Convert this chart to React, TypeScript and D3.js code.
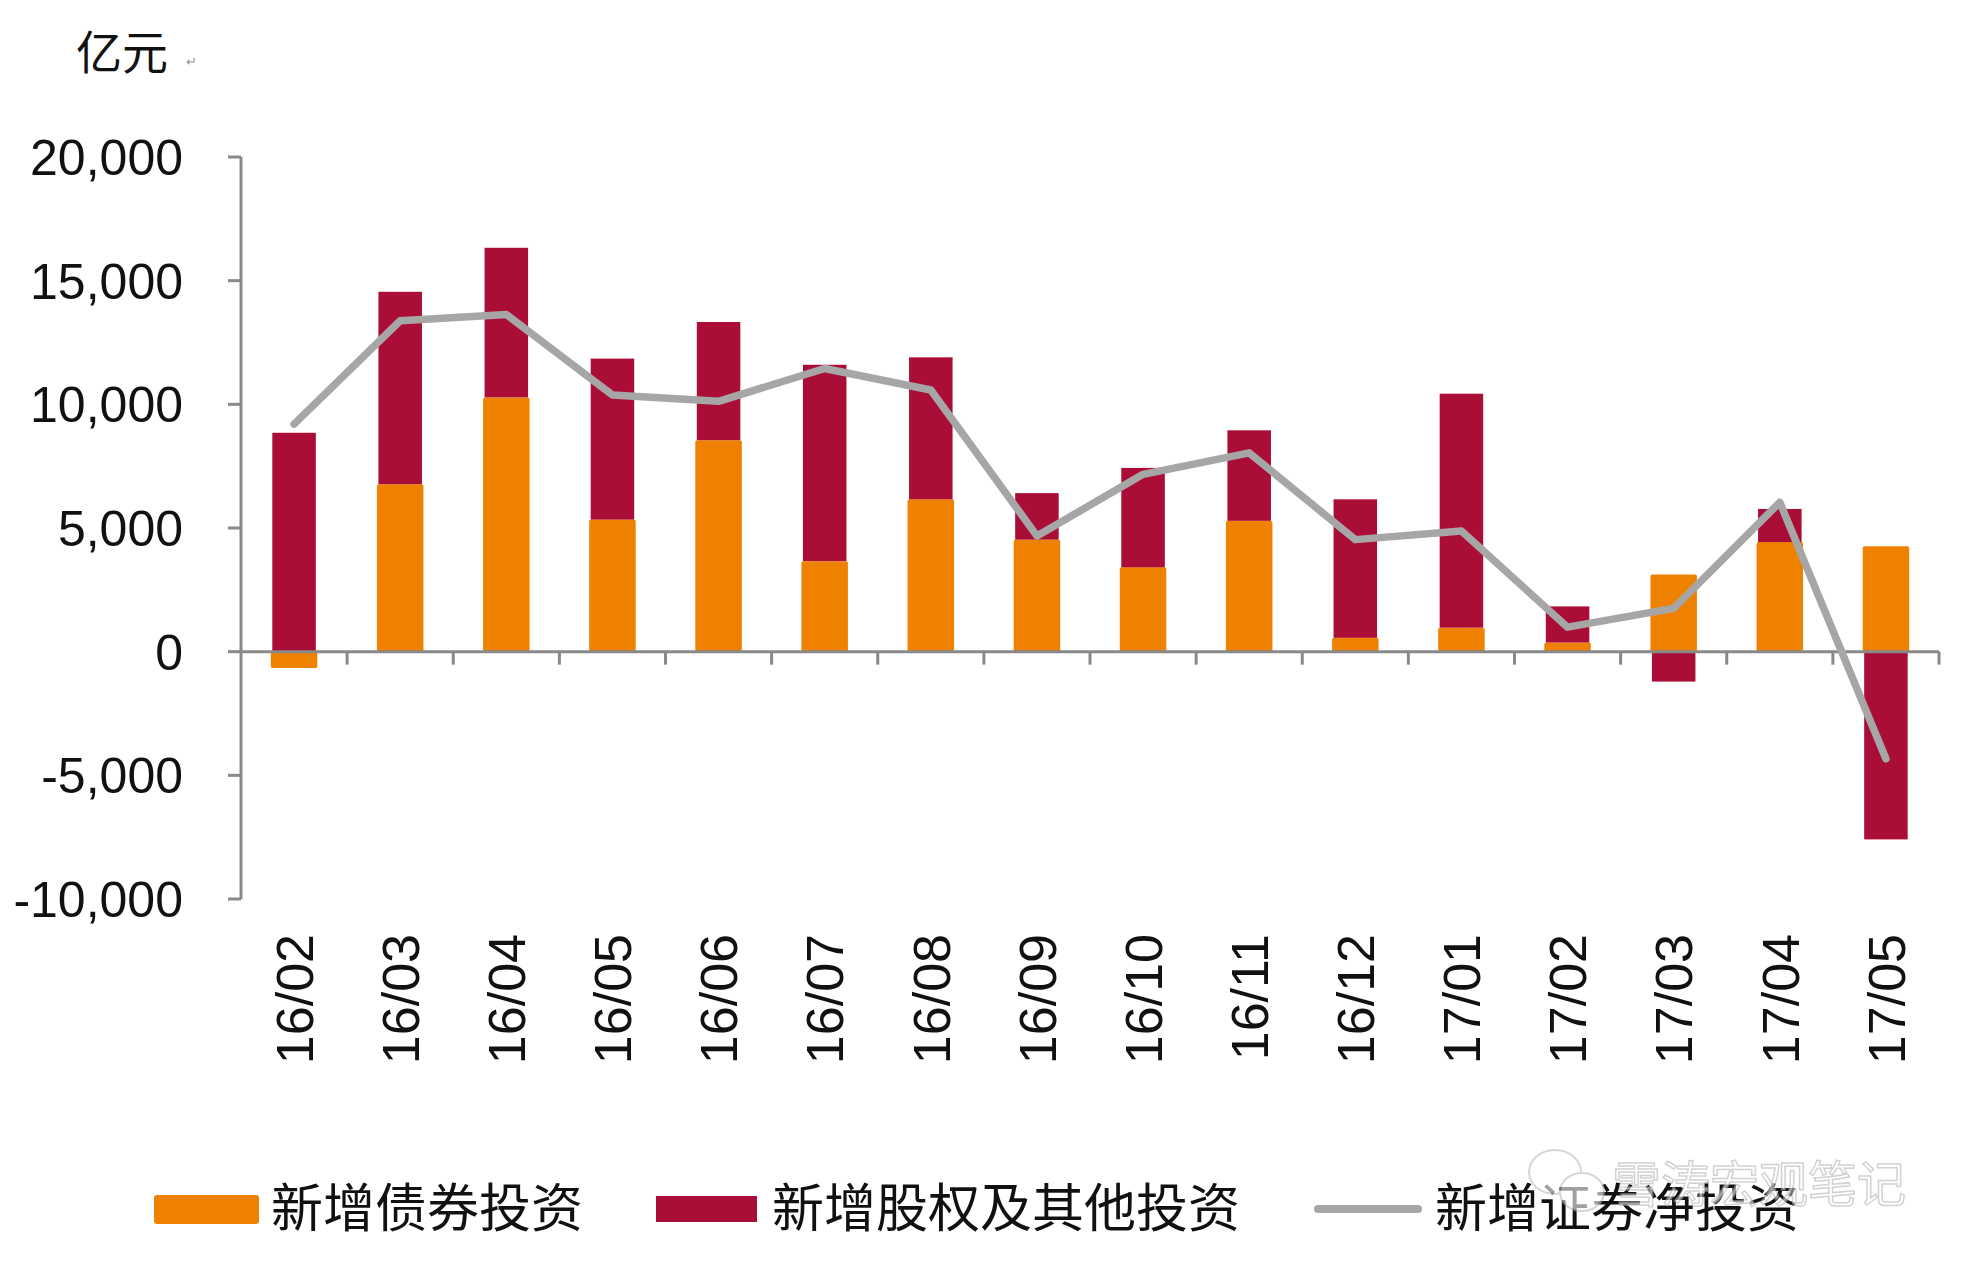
import * as d3 from "d3";
import { useEffect, useRef } from "react";

const categories = [
  "16/02", "16/03", "16/04", "16/05", "16/06", "16/07", "16/08", "16/09",
  "16/10", "16/11", "16/12", "17/01", "17/02", "17/03", "17/04", "17/05",
];
// 新增债券投资
const bonds = [-660, 6770, 10280, 5340, 8550, 3660, 6160, 4530, 3410, 5290, 560, 970, 370, 3120, 4430, 4260];
// 新增股权及其他投资
const equity = [8850, 7780, 6050, 6510, 4780, 7940, 5740, 1880, 4020, 3660, 5600, 9460, 1460, -1210, 1340, -7590];
// 新增证券净投资
const netSecurities = [9200, 13380, 13630, 10380, 10120, 11450, 10580, 4680, 7170, 8040, 4530, 4880, 990, 1750, 6040, -4330];
const yTicks = [20000, 15000, 10000, 5000, 0, -5000, -10000];

const W = 1967;
const H = 1269;
const ORANGE = "#EE8200";
const RED = "#AA0D36";
const GRAY_LINE = "#A6A6A6";
const AXIS = "#898989";
const CJK = "'Noto Sans CJK SC', 'Noto Sans', sans-serif";
const NUM = "'Liberation Sans', Arial, sans-serif";

const App = () => {
  const ref = useRef<SVGSVGElement | null>(null);

  useEffect(() => {
    document.body.style.margin = "0";
    if (!ref.current) return;

    const svg = d3.select(ref.current);
    svg.selectAll("*").remove();

    const x0 = 241;
    const x1 = 1939;
    const x = d3.scaleBand<string>().domain(categories).range([x0, x1]).padding(0);
    const y = d3.scaleLinear().domain([-10000, 20000]).range([899, 157]);
    const barW = x.bandwidth() * 0.41;
    const cx = (c: string) => (x(c) ?? 0) + x.bandwidth() / 2;

    const rows = categories.map((c, i) => ({ cat: c, bonds: bonds[i], equity: equity[i] }));
    const stack = d3
      .stack<{ cat: string; bonds: number; equity: number }>()
      .keys(["bonds", "equity"])
      .offset(d3.stackOffsetDiverging);
    const series = stack(rows);
    const colors: Record<string, string> = { bonds: ORANGE, equity: RED };

    // bars
    const bars = svg.append("g");
    series.forEach((s) => {
      const isBond = s.key === "bonds";
      bars
        .append("g")
        .selectAll("rect")
        .data(s)
        .join("rect")
        .attr("x", (d) => cx(d.data.cat) - barW / 2 - (isBond ? 1.5 : 0))
        .attr("width", barW + (isBond ? 3 : 0))
        .attr("y", (d) => y(Math.max(d[0], d[1])))
        .attr("height", (d) => Math.abs(y(d[0]) - y(d[1])))
        .attr("rx", isBond ? 2 : 0)
        .attr("fill", colors[s.key]);
    });

    // y axis
    const axisG = svg.append("g").attr("stroke", AXIS).attr("stroke-width", 3);
    axisG
      .append("line")
      .attr("x1", x0)
      .attr("x2", x0)
      .attr("y1", y(20000))
      .attr("y2", y(-10000));
    axisG
      .selectAll("line.yt")
      .data(yTicks)
      .join("line")
      .attr("class", "yt")
      .attr("x1", x0 - 13)
      .attr("x2", x0)
      .attr("y1", (d) => y(d))
      .attr("y2", (d) => y(d));

    // x axis at zero
    axisG
      .append("line")
      .attr("x1", x0)
      .attr("x2", x1)
      .attr("y1", y(0))
      .attr("y2", y(0));
    const boundaries = categories.slice(1).map((c) => x(c) ?? 0).concat([x1]);
    axisG
      .selectAll("line.xt")
      .data(boundaries)
      .join("line")
      .attr("class", "xt")
      .attr("x1", (d) => d)
      .attr("x2", (d) => d)
      .attr("y1", y(0))
      .attr("y2", y(0) + 13);

    // y labels
    const fmt = d3.format(",");
    svg
      .append("g")
      .selectAll("text")
      .data(yTicks)
      .join("text")
      .attr("x", 183)
      .attr("y", (d) => y(d))
      .attr("dy", "0.36em")
      .attr("text-anchor", "end")
      .attr("font-family", NUM)
      .attr("font-size", 50)
      .attr("fill", "#111")
      .text((d) => fmt(d).replace("\u2212", "-"));

    // x labels
    svg
      .append("g")
      .selectAll("text")
      .data(categories)
      .join("text")
      .attr("transform", (d) => `translate(${cx(d)},934) rotate(-90)`)
      .attr("text-anchor", "end")
      .attr("dy", "0.36em")
      .attr("font-family", NUM)
      .attr("font-size", 52)
      .attr("fill", "#111")
      .text((d) => d);

    // net line
    const line = d3
      .line<number>()
      .x((_, i) => cx(categories[i]))
      .y((d) => y(d));
    svg
      .append("path")
      .datum(netSecurities)
      .attr("d", line)
      .attr("fill", "none")
      .attr("stroke", GRAY_LINE)
      .attr("stroke-width", 7.5)
      .attr("stroke-linecap", "round")
      .attr("stroke-linejoin", "round");

    // unit label
    svg
      .append("text")
      .attr("x", 76)
      .attr("y", 69)
      .attr("font-family", CJK)
      .attr("font-size", 46)
      .attr("fill", "#111")
      .text("亿元");
    svg
      .append("text")
      .attr("x", 186)
      .attr("y", 66)
      .attr("font-family", NUM)
      .attr("font-size", 13)
      .attr("fill", "#999")
      .text("↵");

    // legend
    const ly = 1208;
    const legend = svg.append("g").attr("font-family", CJK).attr("font-size", 52).attr("fill", "#111");
    legend.append("rect").attr("x", 154).attr("y", ly - 13).attr("width", 105).attr("height", 29).attr("rx", 3).attr("fill", ORANGE);
    legend.append("text").attr("x", 271).attr("y", ly).attr("dy", "0.36em").text("新增债券投资");
    legend.append("rect").attr("x", 656).attr("y", ly - 12).attr("width", 101).attr("height", 26).attr("fill", RED);
    legend.append("text").attr("x", 772).attr("y", ly).attr("dy", "0.36em").text("新增股权及其他投资");
    legend
      .append("line")
      .attr("x1", 1318)
      .attr("x2", 1418)
      .attr("y1", ly + 1)
      .attr("y2", ly + 1)
      .attr("stroke", GRAY_LINE)
      .attr("stroke-width", 8)
      .attr("stroke-linecap", "round");
    legend.append("text").attr("x", 1435).attr("y", ly).attr("dy", "0.36em").text("新增证券净投资");

    // watermark
    const wm = svg.append("g").attr("opacity", 0.6);
    wm.append("ellipse").attr("cx", 1555).attr("cy", 1172).attr("rx", 26).attr("ry", 22).attr("fill", "white").attr("stroke", "#bbb").attr("stroke-width", 2);
    wm.append("ellipse").attr("cx", 1582).attr("cy", 1192).attr("rx", 22).attr("ry", 19).attr("fill", "white").attr("stroke", "#bbb").attr("stroke-width", 2);
    wm.append("text")
      .attr("x", 1612)
      .attr("y", 1184)
      .attr("dy", "0.36em")
      .attr("font-family", CJK)
      .attr("font-size", 49)
      .attr("fill", "white")
      .attr("stroke", "#b5b5b5")
      .attr("stroke-width", 1.5)
      .text("雪涛宏观笔记");
  }, []);

  return <svg ref={ref} width={W} height={H} style={{ display: "block", background: "white" }} />;
};

export default App;
